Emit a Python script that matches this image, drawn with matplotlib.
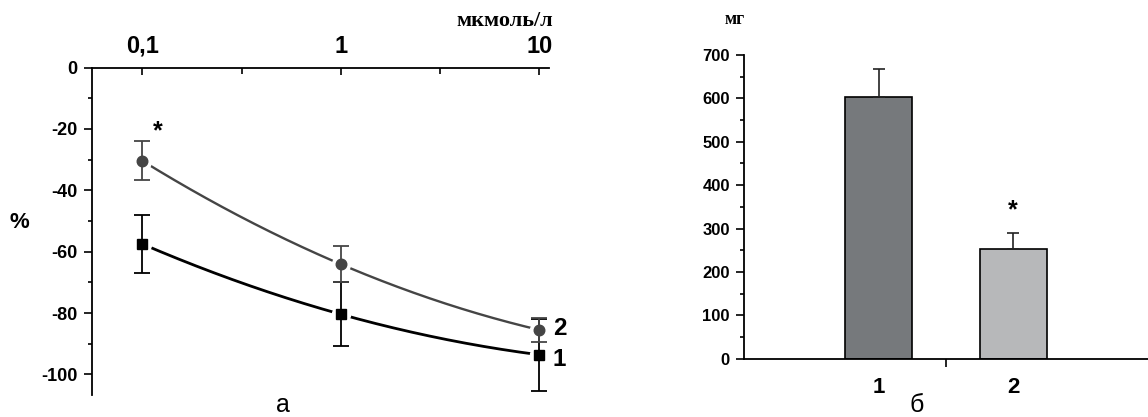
import numpy as np
import matplotlib
matplotlib.use("Agg")
import matplotlib.pyplot as plt
from matplotlib.ticker import FixedLocator, NullFormatter

plt.rcParams['font.family'] = ['Liberation Sans', 'DejaVu Sans']
plt.rcParams['axes.unicode_minus'] = False

# panel a: concentration, mkmol/l
conc = [0.1, 1.0, 10.0]
conc_labels = ['0,1', '1', '10']
# series 1 (squares) and 2 (circles), % change with SE
s1_mean = [-57.5, -80.4, -93.6]
s1_err = [9.6, 10.4, 11.7]
s2_mean = [-30.4, -64.1, -85.5]
s2_err = [6.3, 5.9, 3.8]
y_ticks_a = [0, -20, -40, -60, -80, -100]

# panel b: bars, mg
groups = ['1', '2']
bar_vals = [603, 252]
bar_err = [65, 37]
bar_colors = ['#76797c', '#b7b8ba']
y_ticks_b = [0, 100, 200, 300, 400, 500, 600, 700]

fig = plt.figure(figsize=(11.48, 4.17), dpi=100)

# ---------- panel a ----------
ax = fig.add_axes([0.0799, 0.0528, 0.3984, 0.7853])
ax.set_xscale('log')
ax.set_xlim(0.0556, 11.2)
ax.set_ylim(-106.7, 0)

def smooth(xs, ys):
    u = np.log10(xs)
    c = np.polyfit(u, ys, 2)
    uu = np.linspace(u[0], u[-1], 200)
    return 10 ** uu, np.polyval(c, uu)

for mean, err, col, mk, ms, lw in [(s1_mean, s1_err, 'black', 's', 6.8, 2.0),
                                   (s2_mean, s2_err, '#454545', 'o', 7.6, 1.7)]:
    cx, cy = smooth(conc, mean)
    ax.plot(cx, cy, color=col, lw=lw, zorder=2, clip_on=False)
    ax.plot(conc, mean, ls='none', marker='o', ms=13, color='white', zorder=3, clip_on=False)
    ax.errorbar(conc, mean, yerr=err, fmt='none', ecolor=col, elinewidth=1.3,
                capsize=5.5, capthick=1.3, zorder=4, clip_on=False)
    ax.plot(conc, mean, ls='none', marker=mk, ms=ms, color=col, zorder=5, clip_on=False)

ax.text(conc[-1] * 1.17, s2_mean[-1] + 0.5, '2', fontsize=17.5, fontweight='bold',
        ha='left', va='center')
ax.text(conc[-1] * 1.17, s1_mean[-1] - 1.5, '1', fontsize=17.5, fontweight='bold',
        ha='left', va='center')
ax.text(conc[0] * 1.2, s2_mean[0] + 9.5, '*', fontsize=18, fontweight='bold',
        ha='center', va='center')

ax.spines['bottom'].set_visible(False)
ax.spines['right'].set_visible(False)
for s in ['top', 'left']:
    ax.spines[s].set_linewidth(1.3)

ax.xaxis.tick_top()
ax.xaxis.set_major_locator(FixedLocator(conc))
ax.set_xticklabels(conc_labels)
ax.xaxis.set_minor_locator(FixedLocator([np.sqrt(conc[0] * conc[1]), np.sqrt(conc[1] * conc[2])]))
ax.xaxis.set_minor_formatter(NullFormatter())
ax.tick_params(axis='x', which='major', direction='in', length=5, width=1.2,
               labelsize=17, pad=7)
ax.tick_params(axis='x', which='minor', direction='in', length=4, width=1.2)
for t in ax.get_xticklabels():
    t.set_fontweight('bold')

ax.set_yticks(y_ticks_a)
ax.yaxis.set_minor_locator(FixedLocator([-10, -30, -50, -70, -90]))
ax.tick_params(axis='y', which='major', direction='out', length=6, width=1.2,
               labelsize=13, pad=4)
ax.tick_params(axis='y', which='minor', direction='out', length=3, width=1.2)
for t in ax.get_yticklabels():
    t.set_fontweight('bold')

fig.text(19 / 1148, 1 - 222 / 417, '%', fontsize=16, fontweight='bold', ha='center', va='center')
fig.text(553 / 1148, 1 - 21 / 417, 'мкмоль/л', fontsize=16, fontweight='bold',
         family='Liberation Serif', ha='right', va='center')
fig.text(283 / 1148, 1 - 405 / 417, 'а', fontsize=18, ha='center', va='center')

# ---------- panel b ----------
bx = fig.add_axes([0.6479, 0.1398, 0.3521, 0.7283])
pos = np.arange(1, len(groups) + 1)
bx.bar(pos, bar_vals, width=0.5, color=bar_colors, edgecolor='black', linewidth=1.2, zorder=2)
bx.errorbar(pos, bar_vals, yerr=[np.zeros(len(bar_err)), bar_err], fmt='none',
            ecolor='#222222', elinewidth=1.2, capsize=4.2, capthick=1.2, zorder=3)
bx.text(pos[1], bar_vals[1] + bar_err[1] + 53, '*', fontsize=18, fontweight='bold',
        ha='center', va='center')
bx.set_xlim(0, 3)
bx.set_ylim(0, 700)

bx.spines['top'].set_visible(False)
bx.spines['right'].set_visible(False)
for s in ['bottom', 'left']:
    bx.spines[s].set_linewidth(1.3)

bx.set_xticks([(pos[0] + pos[1]) / 2])
bx.set_xticklabels([''])
bx.xaxis.set_minor_locator(FixedLocator(pos))
bx.set_xticklabels(groups, minor=True)
bx.tick_params(axis='x', which='major', direction='out', length=6, width=1.2)
bx.tick_params(axis='x', which='minor', length=0, labelsize=16, pad=13)
for t in bx.get_xticklabels(minor=True):
    t.set_fontweight('bold')

bx.set_yticks(y_ticks_b)
bx.yaxis.set_minor_locator(FixedLocator([50, 150, 250, 350, 450, 550, 650]))
bx.tick_params(axis='y', which='major', direction='out', length=6, width=1.2,
               labelsize=12, pad=4)
bx.tick_params(axis='y', which='minor', direction='out', length=3, width=1.2)
for t in bx.get_yticklabels():
    t.set_fontweight('bold')

fig.text(735 / 1148, 1 - 19 / 417, 'мг', fontsize=13, fontweight='bold',
         family='Liberation Serif', ha='center', va='center')
fig.text(917 / 1148, 1 - 405 / 417, 'б', fontsize=18, ha='center', va='center')

fig.savefig('out.png', dpi=100)
